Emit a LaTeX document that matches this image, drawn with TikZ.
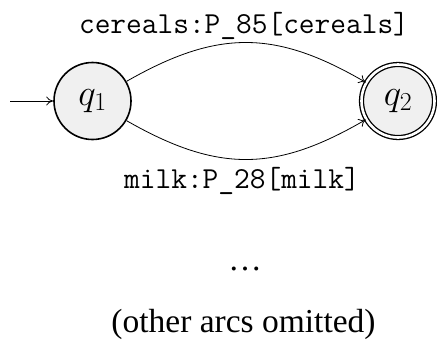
\RequirePackage{fix-cm}
\documentclass[tikz,border=0pt]{standalone}
\usepackage{fontspec}
\setmainfont{Liberation Serif}
\usetikzlibrary{arrows.meta}
\definecolor{statefill}{RGB}{240,240,240}
\begin{document}
\begin{tikzpicture}[x=1pt,y=-1pt,
  state/.style={circle,draw,line width=1.6pt,fill=statefill,minimum size=77pt,inner sep=0pt,font=\fontsize{37}{40}\selectfont},
  accept/.style={state,double,double distance=2.6pt,line width=1.3pt,minimum size=73pt},
  arc/.style={-{To[length=7pt,width=9pt]},line width=0.8pt},
  lbl/.style={font=\fontsize{30.5}{34}\ttfamily},
  txt/.style={font=\fontsize{33.5}{36}\selectfont}
]
\useasboundingbox (0,0) rectangle (437,349);
\node[state] (q1) at (92.5,101) {$q_1$};
\node[accept] (q2) at (398,101) {$q_2$};
\coordinate (start) at (10,101);
\draw[arc] (start) -- (q1);
\draw[arc] (q1) to[bend left=30,looseness=1.12] (q2);
\draw[arc] (q1) to[bend right=30,looseness=1.12] (q2);
\node[lbl,anchor=base] (t1) at (244,33) {cereals:P\_85[cereals]};
\node[lbl,anchor=base] (t2) at (242,188) {milk:P\_28[milk]};
\node[txt,anchor=base] (dots) at (245,270) {\dots};
\node[txt,anchor=base] (note) at (243.5,332) {(other arcs omitted)};
\end{tikzpicture}
\end{document}
